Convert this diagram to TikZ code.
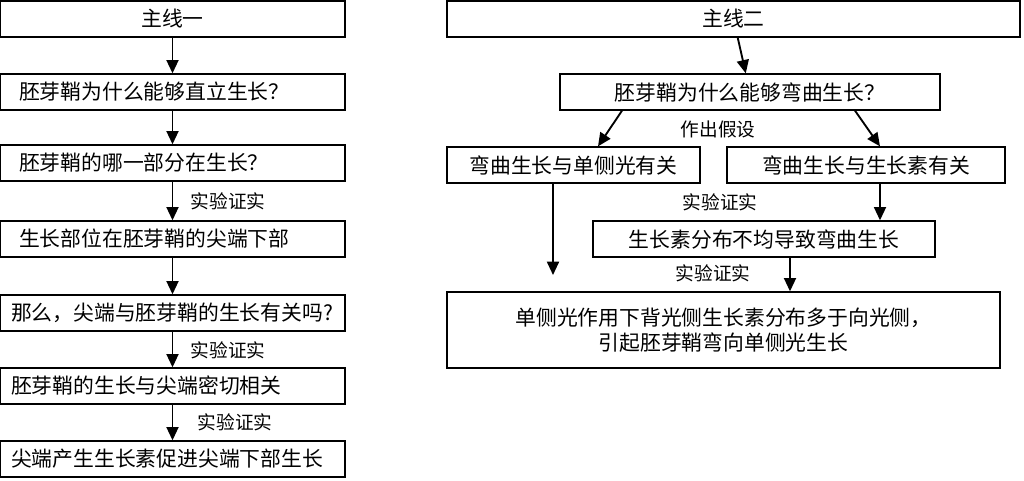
\documentclass[tikz,border=0pt]{standalone}
\usepackage{fontspec}
\setmainfont{Noto Sans CJK SC}
\usetikzlibrary{arrows.meta}
\tikzset{
  box/.style={draw,line width=1pt,minimum height=27pt,inner sep=2pt,font=\fontsize{15.6}{18.5}\selectfont},
  lbox/.style={box,minimum width=258.75pt,text width=250pt,align=left},
  arr/.style={-{Triangle[length=10pt,width=9pt]},line width=1.4pt},
  note/.style={font=\fontsize{14}{16}\selectfont}
}
\begin{document}
\begin{tikzpicture}[x=0.75pt,y=-0.75pt]
\useasboundingbox (0,0) rectangle (1024,480);
% left column
\node[box,minimum width=258.75pt] (L0) at (172.5,19) {主线一};
\node[lbox] (L1) at (172.5,92) {\hspace{10pt}胚芽鞘为什么能够直立生长？};
\node[lbox] (L2) at (172.5,163) {\hspace{10pt}胚芽鞘的哪一部分在生长？};
\node[lbox] (L3) at (172.5,239) {\hspace{10pt}生长部位在胚芽鞘的尖端下部};
\node[lbox] (L4) at (172.5,313) {\hspace{4pt}那么，尖端与胚芽鞘的生长有关吗?};
\node[lbox] (L5) at (172.5,386) {\hspace{4pt}胚芽鞘的生长与尖端密切相关};
\node[lbox] (L6) at (172.5,459) {\hspace{4pt}尖端产生生长素促进尖端下部生长};
\foreach \a/\b in {L0/L1,L1/L2,L2/L3,L3/L4,L4/L5,L5/L6}
  \draw[arr] (\a) -- (\b);
\node[note] (n1) at (228,201) {实验证实};
\node[note] (n2) at (228,350) {实验证实};
\node[note] (n3) at (235,422) {实验证实};
% right column
\node[box,minimum width=429.75pt] (R0) at (733.5,19) {主线二};
\node[box,minimum width=285pt] (RQ) at (750,92) {胚芽鞘为什么能够弯曲生长？};
\node[box,minimum width=189.75pt] (H1) at (573.5,165) {弯曲生长与单侧光有关};
\node[box,minimum width=208.5pt] (H2) at (866,165) {弯曲生长与生长素有关};
\node[box,minimum width=256.5pt] (RM) at (764,239) {生长素分布不均导致弯曲生长};
\node[box,minimum width=414.75pt,minimum height=57pt,align=center] (RB) at (723.5,330)
  {单侧光作用下背光侧生长素分布多于向光侧，\\引起胚芽鞘弯向单侧光生长};
\coordinate (e1) at (553,275);
\draw[arr] (R0) -- (RQ);
\draw[arr] (RQ.south -| 622,0) -- (H1.north -| 598,0);
\draw[arr] (RQ.south -| 855,0) -- (H2.north -| 880,0);
\draw[arr] (H2.south -| 880,0) -- (RM.north -| 880,0);
\draw[arr] (H1.south -| e1) -- (e1);
\draw[arr] (RM.south -| 790,0) -- (RB.north -| 790,0);
\node[note] (n4) at (718,129) {作出假设};
\node[note] (n5) at (720,202) {实验证实};
\node[note] (n6) at (713,273) {实验证实};
\end{tikzpicture}
\end{document}
